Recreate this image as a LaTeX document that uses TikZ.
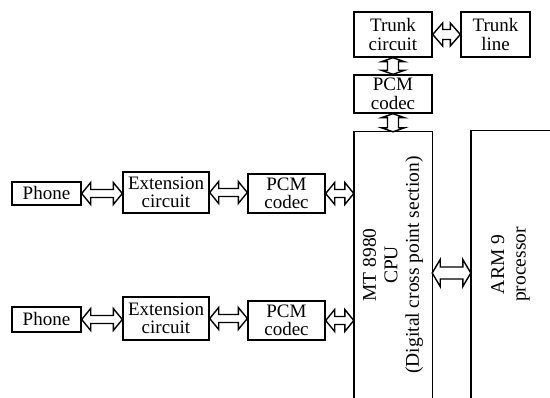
\documentclass[tikz,border=0pt]{standalone}
\usepackage{fontspec}
\setmainfont{Liberation Serif}
\usetikzlibrary{calc}

\begin{document}
\begin{tikzpicture}[
    x=1pt, y=-1pt,
    box/.style={draw, line width=1.4pt, inner sep=0pt, align=center, font=\fontsize{19}{18.5}\selectfont},
    bigbox/.style={inner sep=0pt},
    sidetext/.style={rotate=90, align=center, font=\fontsize{19.5}{21.5}\selectfont},
    frame/.style={line width=1.4pt},
    harrow/.style args={#1/#2/#3}{draw, fill=white, line width=1.4pt, to path={
        let \p1=(\tikztostart), \p2=(\tikztotarget) in
        (\x1,\y1) -- (\x1+#1,\y1+#2) -- (\x1+#1,\y1+#3) -- (\x2-#1,\y1+#3) -- (\x2-#1,\y1+#2) -- (\x2,\y1)
        -- (\x2-#1,\y1-#2) -- (\x2-#1,\y1-#3) -- (\x1+#1,\y1-#3) -- (\x1+#1,\y1-#2) -- cycle}},
    varrow/.style args={#1/#2/#3}{draw, fill=white, line width=1.4pt, to path={
        let \p1=(\tikztostart), \p2=(\tikztotarget) in
        (\x1,\y1) -- (\x1+#2,\y1-#1) -- (\x1+#3,\y1-#1) -- (\x1+#3,\y2+#1) -- (\x1+#2,\y2+#1) -- (\x1,\y2)
        -- (\x1-#2,\y2+#1) -- (\x1-#3,\y2+#1) -- (\x1-#3,\y1-#1) -- (\x1-#2,\y1-#1) -- cycle}}
]
    \useasboundingbox (0,0) rectangle (550,398);

    % Trunk side
    \node[box, minimum width=78pt, minimum height=45pt] (trunkc) at (393,34.5) {Trunk\\circuit};
    \node[box, minimum width=69pt, minimum height=45pt] (trunkl) at (495.5,34.5) {Trunk\\line};
    \node[box, minimum width=78pt, minimum height=38pt] (pcmT) at (393,94) {PCM\\codec};

    % Processors
    \node[bigbox, minimum width=78pt, minimum height=266pt] (cpu) at (393,265) {};
    \draw[frame] (cpu.south west) -- (cpu.north west) -- (cpu.north east) -- (cpu.south east);
    \node[sidetext] (cputext) at (cpu) {MT 8980\\CPU\\(Digital cross point section)};

    \node[bigbox, minimum width=79pt, minimum height=267pt] (arm) at (510.5,264.5) {};
    \draw[frame] (arm.south west) -- (arm.north west) -- (arm.north east);
    \node[sidetext] (armtext) at (arm) {ARM 9\\processor};

    % Extension rows
    \node[box, minimum width=69pt, minimum height=23pt] (phoneA) at (46.5,193.5) {Phone};
    \node[box, minimum width=86pt, minimum height=41pt] (extA) at (166,192.5) {Extension\\circuit};
    \node[box, minimum width=77pt, minimum height=39pt] (pcmA) at (286.5,193.5) {PCM\\codec};

    \node[box, minimum width=69pt, minimum height=25pt] (phoneB) at (46.5,319.5) {Phone};
    \node[box, minimum width=86pt, minimum height=43pt] (extB) at (166,318.5) {Extension\\circuit};
    \node[box, minimum width=77pt, minimum height=39pt] (pcmB) at (286.5,320.5) {PCM\\codec};

    % Links
    \draw[harrow=10pt/11.5pt/5pt] (trunkc.east) to (trunkl.west);
    \draw[varrow=4pt/11.5pt/5.5pt] (trunkc.south) to (pcmT.north);
    \draw[varrow=4pt/11.5pt/5.5pt] (pcmT.south) to (cpu.north);

    \draw[harrow=9pt/11pt/4pt] (phoneA.east) to (extA.west);
    \draw[harrow=9pt/11pt/4pt] (extA.east) to (pcmA.west);
    \draw[harrow=9pt/11pt/4pt] (pcmA.east) to (cpu.west);

    \draw[harrow=9pt/11pt/4pt] (phoneB.east) to (extB.west);
    \draw[harrow=9pt/11pt/4pt] (extB.east) to (pcmB.west);
    \draw[harrow=9pt/11pt/4pt] (pcmB.east) to (cpu.west);

    \draw[harrow=8pt/13.5pt/6pt] ([yshift=-8pt]cpu.east) to (arm.west);
\end{tikzpicture}
\end{document}
